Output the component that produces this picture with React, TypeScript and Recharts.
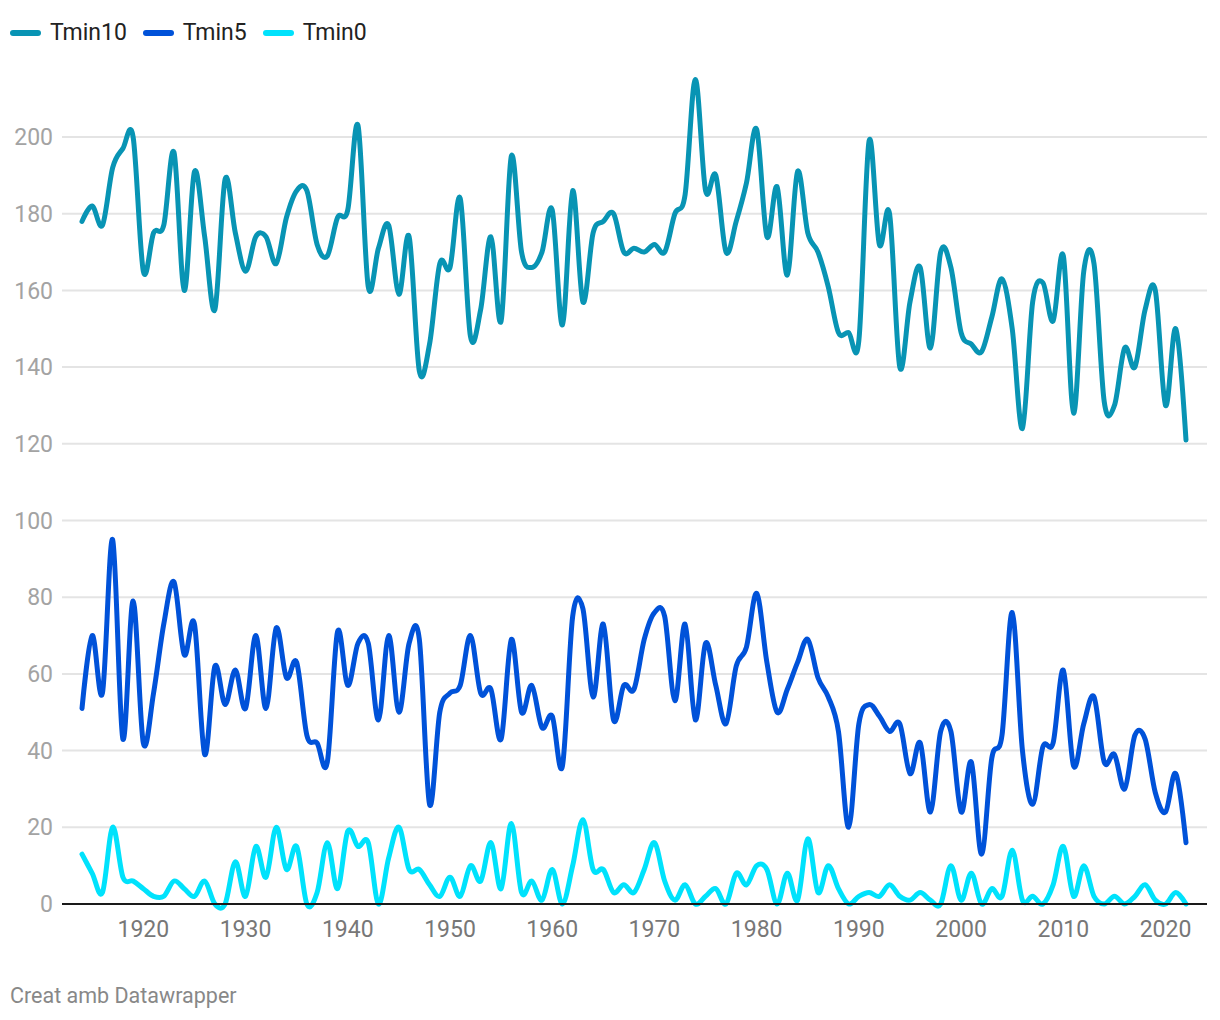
import React from "react"
import { CartesianGrid, Line, LineChart, XAxis, YAxis } from "recharts"

const startYear = 1914

// days per year below each threshold, 1914 → 2022
const tmin10 = [
  178, 182, 177, 192, 197, 200, 165, 175, 177, 196,
  160, 191, 174, 155, 189, 175, 165, 174, 174, 167,
  179, 186, 186, 172, 169, 179, 181, 203, 161, 171,
  177, 159, 174, 139, 146, 167, 166, 184, 148, 155,
  174, 152, 195, 170, 166, 170, 181, 151, 186, 157,
  175, 178, 180, 170, 171, 170, 172, 170, 180, 185,
  215, 186, 190, 170, 178, 188, 202, 174, 187, 164,
  191, 175, 170, 161, 149, 149, 147, 199, 172, 180,
  140, 157, 166, 145, 170, 166, 149, 146, 144, 153,
  163, 150, 124, 157, 162, 152, 169, 128, 165, 167,
  131, 130, 145, 140, 155, 160, 130, 150, 121,
]

const tmin5 = [
  51, 70, 55, 95, 43, 79, 42, 55, 73, 84,
  65, 73, 39, 62, 52, 61, 51, 70, 51, 72,
  59, 63, 44, 42, 37, 71, 57, 68, 68, 48,
  70, 50, 68, 69, 26, 50, 55, 57, 70, 55,
  56, 43, 69, 50, 57, 46, 49, 36, 75, 77,
  54, 73, 48, 57, 56, 69, 76, 75, 53, 73,
  48, 68, 57, 47, 62, 67, 81, 63, 50, 56,
  63, 69, 59, 54, 45, 20, 47, 52, 49, 45,
  47, 34, 42, 24, 45, 45, 24, 37, 13, 38,
  44, 76, 40, 26, 41, 42, 61, 36, 47, 54,
  37, 39, 30, 44, 43, 29, 24, 34, 16,
]

const tmin0 = [
  13, 8, 3, 20, 7, 6, 4, 2, 2, 6,
  4, 2, 6, 0, 0, 11, 2, 15, 7, 20,
  9, 15, 0, 3, 16, 4, 19, 15, 16, 0,
  12, 20, 9, 9, 5, 2, 7, 2, 10, 6,
  16, 4, 21, 3, 6, 1, 9, 0, 10, 22,
  9, 9, 3, 5, 3, 9, 16, 6, 1, 5,
  0, 2, 4, 0, 8, 5, 10, 9, 0, 8,
  1, 17, 3, 10, 4, 0, 2, 3, 2, 5,
  2, 1, 3, 1, 0, 10, 1, 8, 0, 4,
  2, 14, 1, 2, 0, 5, 15, 2, 10, 2,
  0, 2, 0, 2, 5, 1, 0, 3, 0,
]

const yearTicks = [1920, 1930, 1940, 1950, 1960, 1970, 1980, 1990, 2000, 2010, 2020]
const valueTicks = [0, 20, 40, 60, 80, 100, 120, 140, 160, 180, 200]

const series = [
  { key: "Tmin10", color: "#0894b4" },
  { key: "Tmin5", color: "#0052d9" },
  { key: "Tmin0", color: "#00e2fc" },
]

const data = tmin10.map((v, i) => ({
  year: startYear + i,
  Tmin10: v,
  Tmin5: tmin5[i],
  Tmin0: tmin0[i],
}))

// cardinal spline (tension 0), same maths as d3.curveCardinal
function cardinal(context: any) {
  const k = 1 / 6
  let x0 = NaN, y0 = NaN, x1 = NaN, y1 = NaN, x2 = NaN, y2 = NaN
  let pt = 0
  let line: number = NaN
  const seg = (x: number, y: number) => {
    context.bezierCurveTo(
      x1 + k * (x2 - x0),
      y1 + k * (y2 - y0),
      x2 + k * (x1 - x),
      y2 + k * (y1 - y),
      x2,
      y2
    )
  }
  return {
    areaStart() { line = 0 },
    areaEnd() { line = NaN },
    lineStart() {
      x0 = x1 = x2 = y0 = y1 = y2 = NaN
      pt = 0
    },
    lineEnd() {
      if (pt === 2) context.lineTo(x2, y2)
      else if (pt === 3) seg(x1, y1)
      if (line || (line !== 0 && pt === 1)) context.closePath()
      line = 1 - line
    },
    point(x: number, y: number) {
      x = +x
      y = +y
      if (pt === 0) {
        pt = 1
        line ? context.lineTo(x, y) : context.moveTo(x, y)
      } else if (pt === 1) {
        pt = 2
        x1 = x
        y1 = y
      } else {
        pt = 3
        seg(x, y)
      }
      x0 = x1; x1 = x2; x2 = x
      y0 = y1; y1 = y2; y2 = y
    },
  }
}

export default function App() {
  return (
    <div
      style={{
        position: "absolute",
        left: 0,
        top: 0,
        width: 1220,
        height: 1020,
        background: "#fff",
        fontFamily: "Roboto, sans-serif",
      }}
    >
      <div
        style={{
          position: "absolute",
          left: 10,
          top: 19,
          display: "flex",
          alignItems: "center",
          fontSize: 23,
          color: "#222",
        }}
      >
        {series.map((s) => (
          <div key={s.key} style={{ display: "flex", alignItems: "center", marginRight: 16 }}>
            <span
              style={{
                display: "inline-block",
                width: 31,
                height: 6,
                borderRadius: 3,
                background: s.color,
                marginRight: 9,
              }}
            />
            <span>{s.key}</span>
          </div>
        ))}
      </div>

      <LineChart
        width={1220}
        height={960}
        data={data}
        margin={{ top: 60.3, right: 13, bottom: 0, left: 0 }}
        style={{ position: "absolute", left: 0, top: 0 }}
      >
        <CartesianGrid
          vertical={false}
          horizontalValues={valueTicks}
          stroke="#e4e4e4"
          strokeWidth={2}
        />
        <XAxis
          dataKey="year"
          type="number"
          domain={[1914, 2022]}
          ticks={yearTicks}
          padding={{ left: 20, right: 21 }}
          height={56}
          tickLine={false}
          tickSize={0}
          tickMargin={17}
          axisLine={{ stroke: "#1a1a1a", strokeWidth: 2 }}
          tick={{ fill: "#777", fontSize: 23 }}
        />
        <YAxis
          type="number"
          domain={[0, 220]}
          ticks={valueTicks}
          width={62}
          tickLine={false}
          tickSize={0}
          tickMargin={9}
          axisLine={false}
          tick={{ fill: "#a3a3a3", fontSize: 23 }}
        />
        {series.map((s) => (
          <Line
            key={s.key}
            dataKey={s.key}
            type={cardinal as any}
            stroke={s.color}
            strokeWidth={5}
            strokeLinecap="round"
            strokeLinejoin="round"
            dot={false}
            activeDot={false}
            isAnimationActive={false}
          />
        ))}
      </LineChart>

      <div
        style={{
          position: "absolute",
          left: 10,
          top: 983,
          fontSize: 21.5,
          color: "#888",
        }}
      >
        Creat amb Datawrapper
      </div>
    </div>
  )
}
